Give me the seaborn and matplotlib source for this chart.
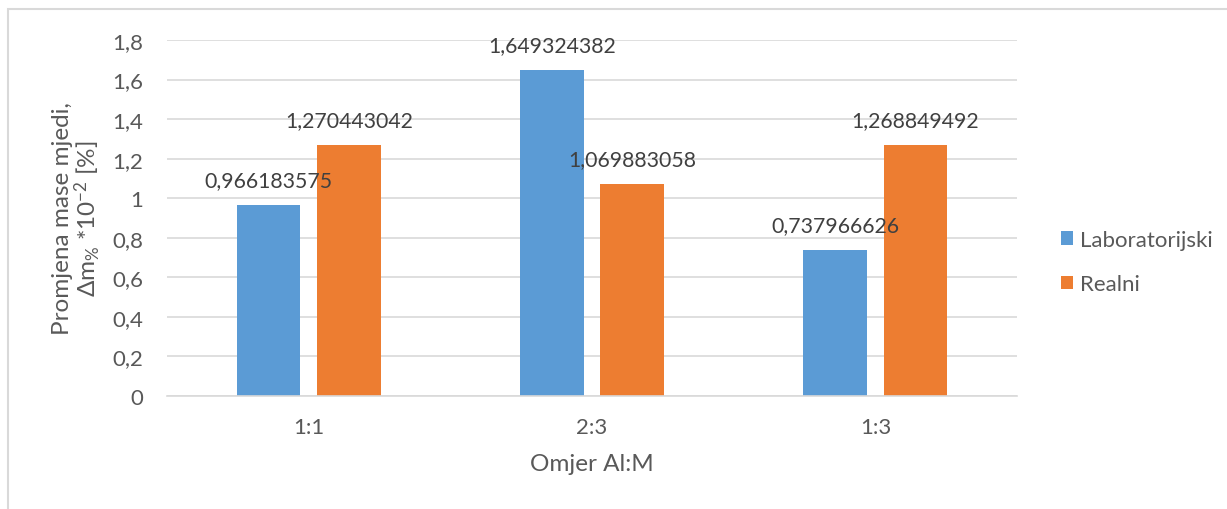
import matplotlib
matplotlib.use("Agg")
import matplotlib.pyplot as plt
import seaborn as sns
import pandas as pd
from matplotlib.patches import Rectangle, Patch

categories = ["1:1", "2:3", "1:3"]
series_names = ["Laboratorijski", "Realni"]
lab_values = [0.966183575, 1.649324382, 0.737966626]
real_values = [1.270443042, 1.069883058, 1.268849492]
y_ticks = [0, 0.2, 0.4, 0.6, 0.8, 1.0, 1.2, 1.4, 1.6, 1.8]
colors = ["#5B9BD5", "#ED7D31"]

df = pd.DataFrame({
    "cat": categories * 2,
    "series": [series_names[0]] * 3 + [series_names[1]] * 3,
    "val": lab_values + real_values,
})

sns.set_theme(style="white")
FONT = "Lato"
plt.rcParams["font.family"] = [FONT, "DejaVu Sans"]
plt.rcParams["mathtext.fontset"] = "custom"
plt.rcParams["mathtext.rm"] = FONT
plt.rcParams["mathtext.it"] = FONT + ":italic"
TXT = "#595959"
GRID = "#D9D9D9"

fig = plt.figure(figsize=(12.27, 5.10), dpi=100)
ax = fig.add_axes([167 / 1227, 1 - 397 / 510, 850 / 1227, (397 - 41) / 510])

sns.barplot(data=df, x="cat", y="val", hue="series", order=categories,
            hue_order=series_names, palette=colors, width=0.567, gap=0.21,
            saturation=1, ax=ax, legend=False, edgecolor="none")

ax.set_xlim(-0.5, 2.5)
ax.set_ylim(0, 1.8)
ax.set_yticks(y_ticks)
ax.set_yticklabels([("%g" % t).replace(".", ",") for t in y_ticks])
ax.yaxis.grid(True, color=GRID, linewidth=1.2)
ax.set_axisbelow(True)
for s in ["top", "right", "left"]:
    ax.spines[s].set_visible(False)
ax.spines["bottom"].set_color(GRID)
ax.spines["bottom"].set_linewidth(1.2)
ax.tick_params(axis="both", length=0, labelsize=16, colors=TXT)
ax.tick_params(axis="y", pad=17)
ax.tick_params(axis="x", pad=15)

for cont in ax.containers:
    for bar in cont:
        h = bar.get_height()
        ax.annotate(("%.9f" % h).replace(".", ","),
                    (bar.get_x() + bar.get_width() / 2, h),
                    xytext=(0, 18), textcoords="offset points",
                    ha="center", va="center", fontsize=15.3, color="#404040")

ax.set_xlabel("Omjer Al:M", fontsize=17.5, color=TXT, labelpad=12)
ax.set_ylabel("Promjena mase mjedi,\n$\\Delta$m$_{\\%}$ *10$^{-2}$ [%]",
              fontsize=17.5, color=TXT, labelpad=7, linespacing=1.0)

handles = [Patch(facecolor=c, edgecolor="none") for c in colors]
leg = fig.legend(handles, series_names, loc="center left",
                 bbox_to_anchor=(1041 / 1227, 1 - 263 / 510), frameon=False,
                 fontsize=16, handlelength=0.55, handleheight=0.55,
                 handletextpad=0.3, labelspacing=1.1)
for t in leg.get_texts():
    t.set_color(TXT)

fig.patches.append(Rectangle((8 / 1227, -0.05), 1.2, 1 - 10 / 510 + 0.05,
                             transform=fig.transFigure, fill=False,
                             edgecolor=GRID, linewidth=1.5, clip_on=False))

fig.savefig("out.png", dpi=100)
